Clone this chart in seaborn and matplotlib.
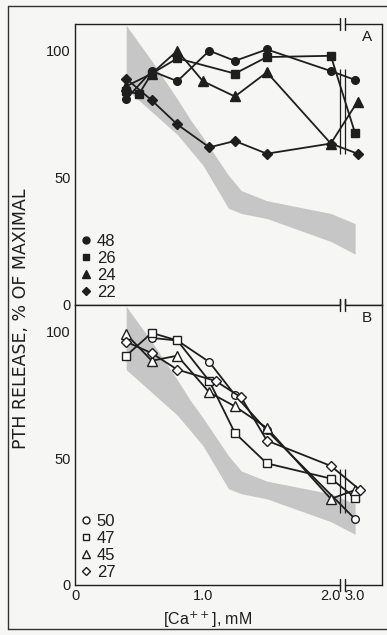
import numpy as np
import pandas as pd
import matplotlib
matplotlib.use("Agg")
import matplotlib.pyplot as plt
import matplotlib.transforms as mtransforms
from matplotlib.lines import Line2D
import seaborn as sns

# --- data (Ca in mM, PTH release in % of maximal) ---
# panel A, filled symbols
a48_x = [0.4, 0.6, 0.8, 1.05, 1.25, 1.5, 2.0, 3.0]
a48_y = [81, 92, 88, 100, 96, 100.5, 92, 88.5]
a26_x = [0.4, 0.5, 0.6, 0.8, 1.25, 1.5, 2.0, 3.0]
a26_y = [84, 83, 91, 97, 91, 97.5, 98, 67.5]
a24_x = [0.4, 0.6, 0.8, 1.0, 1.25, 1.5, 2.0, 3.1]
a24_y = [86, 91, 100, 88, 82, 91.5, 63.5, 80]
a22_x = [0.4, 0.6, 0.8, 1.05, 1.25, 1.5, 2.0, 3.1]
a22_y = [89, 80.5, 71, 62, 64.5, 59.5, 63.5, 59.5]

# panel B, open symbols
b50_x = [0.6, 0.8, 1.05, 1.25, 1.5, 3.0]
b50_y = [97.5, 96.5, 88, 75, 61, 26]
b47_x = [0.4, 0.6, 0.8, 1.05, 1.25, 1.5, 2.0, 3.0]
b47_y = [90.5, 99.5, 96.5, 80.5, 60, 48, 42, 34.5]
b45_x = [0.4, 0.6, 0.8, 1.05, 1.25, 1.5, 2.0, 3.0]
b45_y = [99, 88.5, 90.5, 76, 70.5, 62, 34, 37.5]
b27_x = [0.4, 0.6, 0.8, 1.1, 1.3, 1.5, 2.0, 3.2]
b27_y = [96, 91.5, 85, 80.5, 74, 57, 47, 37.5]

# shaded normal range
band_x = [0.4, 0.6, 0.8, 0.9, 1.0, 1.2, 1.3, 1.5, 2.0, 3.0]
band_hi = [110, 96, 81, 73, 66, 51, 45, 41, 36, 32]
band_lo = [85, 76, 67, 61, 55, 38, 36, 34, 25, 20]

x_ticks = [0, 1.0, 2.0, 3.0]
x_ticklabels = ["0", "1.0", "2.0", "3.0"]
y_ticks = [0, 50, 100]

panel_a = [("48", a48_x, a48_y, "o"), ("26", a26_x, a26_y, "s"),
           ("24", a24_x, a24_y, "^"), ("22", a22_x, a22_y, "D")]
panel_b = [("50", b50_x, b50_y, "o"), ("47", b47_x, b47_y, "s"),
           ("45", b45_x, b45_y, "^"), ("27", b27_x, b27_y, "D")]

MSIZE = {"o": 5.5, "s": 5.2, "^": 6.5, "D": 4.8}
INK = "#1e1e1e"
BG = "#f6f6f5"

# broken x axis: linear up to 2.0, compressed after
K = 0.19
def fwd(x):
    x = np.asarray(x, dtype=float)
    return np.where(x <= 2, x, 2 + K * (x - 2))

def inv(t):
    t = np.asarray(t, dtype=float)
    return np.where(t <= 2, t, 2 + (t - 2) / K)

BREAK1, BREAK2 = float(inv(2.075)), float(inv(2.11))
XMAX = float(inv(2.40))

sns.set_style("white")
plt.rcParams["font.family"] = ["Liberation Sans", "DejaVu Sans"]
plt.rcParams["text.color"] = INK

fig = plt.figure(figsize=(3.87, 6.35), dpi=100, facecolor=BG)
W, H = 387, 635
ax_a = fig.add_axes([75 / W, (H - 305) / H, 307 / W, 281 / H])
ax_b = fig.add_axes([75 / W, (H - 585) / H, 307 / W, 280 / H])


def draw_panel(ax, series, filled, letter, show_xlabels):
    ax.set_facecolor(BG)
    ax.set_xscale("function", functions=(fwd, inv))
    ax.fill_between(band_x, band_lo, band_hi, color="#c6c6c6", lw=0, zorder=1)

    handles = []
    for name, xs, ys, m in series:
        df = pd.DataFrame({"conc": xs, "release": ys})
        sns.lineplot(data=df, x="conc", y="release", ax=ax, color=INK, lw=1.3,
                     marker=m, ms=MSIZE[m], mec=INK, mew=1.0,
                     mfc=INK if filled else "white", sort=False,
                     errorbar=None, zorder=3)
        handles.append(Line2D([], [], ls="none", marker=m, ms=MSIZE[m] - 0.5,
                              color=INK, mec=INK, mew=1.0,
                              mfc=INK if filled else "white", label=name))

    # break marks across the data lines
    tb = (fwd(BREAK1) + fwd(BREAK2)) / 2
    mids = [np.interp(tb, fwd(xs), ys) for _, xs, ys, _ in series]
    ax.vlines([BREAK1, BREAK2], min(mids) - 2.5, max(mids) + 2.5,
              color=INK, lw=0.9, zorder=4)

    ax.set_xlim(0, XMAX)
    ax.set_ylim(0, 110.5)
    ax.set_xticks(x_ticks)
    ax.set_xticklabels(x_ticklabels if show_xlabels else [])
    ax.set_yticks(y_ticks)
    ax.set_yticklabels([str(v) for v in y_ticks])
    ax.tick_params(direction="in", length=5, width=1, color=INK,
                   labelsize=10.5, labelcolor=INK, pad=3)
    ax.set_xlabel("")
    ax.set_ylabel("")

    for side in ["left", "right"]:
        ax.spines[side].set_color(INK)
        ax.spines[side].set_linewidth(1)
    for side in ["top", "bottom"]:
        ax.spines[side].set_visible(False)

    # top and bottom axis lines with the break
    tr = mtransforms.blended_transform_factory(ax.transData, ax.transAxes)
    for yy in [0, 1]:
        ax.plot([0, BREAK1], [yy, yy], color=INK, lw=1, transform=tr, clip_on=False)
        ax.plot([BREAK2, XMAX], [yy, yy], color=INK, lw=1, transform=tr, clip_on=False)
        for bx in [BREAK1, BREAK2]:
            ax.plot([bx, bx], [yy - 0.02, yy + 0.02], color=INK, lw=1,
                    transform=tr, clip_on=False)

    ax.text(0.95, 0.955, letter, transform=ax.transAxes, ha="center",
            va="center", fontsize=11)
    ax.legend(handles=handles, loc="lower left", frameon=False, fontsize=12,
              handlelength=0.7, handletextpad=0.3, labelspacing=0.12,
              borderaxespad=0.15, borderpad=0.15)


draw_panel(ax_a, panel_a, True, "A", False)
draw_panel(ax_b, panel_b, False, "B", True)

ax_b.set_xlabel("[Ca$^{++}$], mM", fontsize=11.5, color=INK)
ax_b.xaxis.set_label_coords(0.433, -0.09)

fig.text(21 / W, 1 - 319 / H, "PTH RELEASE, % OF MAXIMAL", rotation=90,
         ha="center", va="center", fontsize=12.5, color=INK,
         family=["DejaVu Sans"])

# scanned page frame
for xs, ys in [([8, 8], [6, 629]), ([8, 387], [6, 6]), ([8, 387], [629, 629])]:
    fig.add_artist(Line2D([x / W for x in xs], [1 - y / H for y in ys],
                          color="#333333", lw=1, transform=fig.transFigure))

fig.savefig("out.png", dpi=100, facecolor=BG)
